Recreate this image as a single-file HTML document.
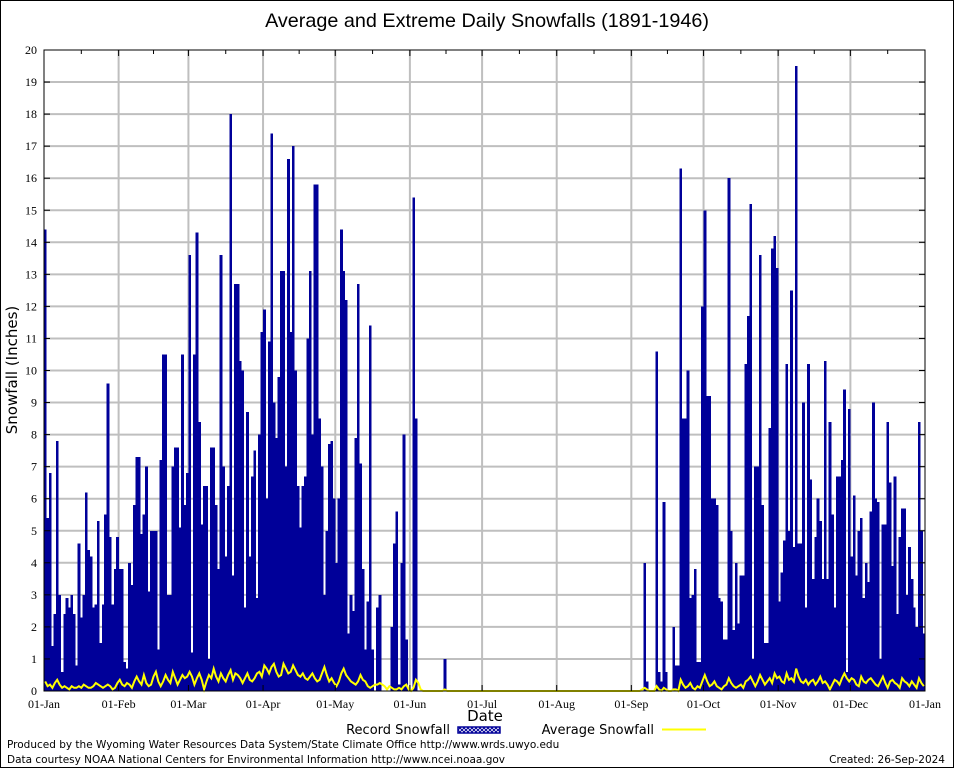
<!DOCTYPE html>
<html><head><meta charset="utf-8"><style>
html,body{margin:0;padding:0;background:#fff;}
svg{display:block;}
.tk{font-family:"Liberation Serif",serif;font-size:12px;fill:#000;}
.sn{font-family:"DejaVu Sans","Liberation Sans",sans-serif;fill:#000;}
</style></head><body>
<svg id="chart" width="954" height="768" viewBox="0 0 954 768" xmlns="http://www.w3.org/2000/svg">
<rect x="0.5" y="0.5" width="953" height="767" fill="#fff" stroke="#000"/>
<text x="487" y="27" text-anchor="middle" font-family="Liberation Sans, sans-serif" font-size="19.8">Average and Extreme Daily Snowfalls (1891-1946)</text>
<g id="grid"></g>
<g id="bars"></g>
<g id="avg"></g>
<g id="axes"></g>
<text x="17" y="370" class="sn" font-size="15" text-anchor="middle" transform="rotate(-90 17 370)">Snowfall (Inches)</text>
<text x="485" y="721" class="sn" font-size="15" text-anchor="middle">Date</text>
<g>
<defs><pattern id="hatch" width="4" height="4" patternUnits="userSpaceOnUse"><rect width="4" height="4" fill="#fff"/><path d="M0 0L4 4M4 0L0 4" stroke="#000099" stroke-width="1"/></pattern></defs>
<text x="450" y="734" class="sn" font-size="13" text-anchor="end">Record Snowfall</text>
<rect x="458" y="727" width="42" height="6" fill="url(#hatch)" stroke="#000099" stroke-width="1.5"/>
<text x="654" y="734" class="sn" font-size="13" text-anchor="end">Average Snowfall</text>
<line x1="662" y1="729.5" x2="706" y2="729.5" stroke="#ffff00" stroke-width="2"/>
</g>
<text x="7" y="748" class="sn" font-size="10.5">Produced by the Wyoming Water Resources Data System/State Climate Office http://www.wrds.uwyo.edu</text>
<text x="7" y="763" class="sn" font-size="10.5">Data courtesy NOAA National Centers for Environmental Information http://www.ncei.noaa.gov</text>
<text x="945" y="763" class="sn" font-size="10.5" text-anchor="end">Created:  26-Sep-2024</text>
</svg>
<script>
const monthLabels=["01-Jan","01-Feb","01-Mar","01-Apr","01-May","01-Jun","01-Jul","01-Aug","01-Sep","01-Oct","01-Nov","01-Dec","01-Jan"];
const monthStartDays=[0,31,60,91,121,152,182,213,244,274,305,335,366];
const yTicks=[0,1,2,3,4,5,6,7,8,9,10,11,12,13,14,15,16,17,18,19,20];
const recJan=[14.4,5.4,6.8,1.4,2.4,7.8,3.0,0.6,2.4,2.9,2.6,3.0,2.4,0.8,4.6,2.3,3.0,6.2,4.4,4.2,2.6,2.7,5.3,1.5,2.7,5.5,9.6,4.8,2.7,3.8,4.8];
const recFeb=[3.8,3.8,0.9,0.7,4.0,3.3,5.8,7.3,7.3,4.9,5.5,7.0,3.1,5.0,5.0,5.0,1.3,7.2,10.5,10.5,3.0,3.0,7.0,7.6,7.6,5.1,10.5,5.8,6.8];
const recMar=[13.6,1.2,10.5,14.3,8.4,5.2,6.4,6.4,1.0,7.6,7.6,5.8,3.8,13.6,7.0,4.2,6.4,18.0,3.6,12.7,12.7,10.3,10.0,2.6,8.7,4.2,6.7,7.5,2.9,8.0,11.2];
const recApr=[11.9,6.0,10.9,17.4,9.0,7.9,9.8,13.1,13.1,7.0,16.6,11.2,17.0,10.0,6.4,5.1,6.4,6.7,11.0,13.1,8.0,15.8,15.8,8.5,7.0,3.0,5.0,7.7,7.8,6.0];
const recMay=[4.0,6.0,14.4,13.1,12.2,1.8,3.0,2.5,7.9,12.7,7.1,3.8,1.3,2.8,11.4,1.3,0,2.6,3.0,0,0,0,0,2.0,4.6,5.6,0.2,4.0,8.0,1.6,0];
const recJun=[0,15.4,8.5,0,0,0,0,0,0,0,0,0,0,0,1.0,0,0,0,0,0,0,0,0,0,0,0,0,0,0,0];
const recJul=[0,0,0,0,0,0,0,0,0,0,0,0,0,0,0,0,0,0,0,0,0,0,0,0,0,0,0,0,0,0,0];
const recAug=[0,0,0,0,0,0,0,0,0,0,0,0,0,0,0,0,0,0,0,0,0,0,0,0,0,0,0,0,0,0,0];
const recSep=[0,0,0,0,0,4.0,0.3,0,0,0,10.6,0.6,0.3,5.9,0.6,0,0,2.0,0.8,0.8,16.3,8.5,8.5,10.0,2.9,3.0,3.8,0.9,0.9,12.0];
const recOct=[15.0,9.2,9.2,6.0,6.0,5.8,2.9,2.8,1.6,1.6,16.0,5.0,1.9,4.0,2.1,3.6,3.6,10.2,11.7,15.2,1.0,7.0,7.0,13.6,5.8,1.5,1.5,8.2,13.8,14.2,13.2];
const recNov=[2.8,3.7,4.7,10.2,5.0,12.5,4.5,19.5,4.6,4.6,9.0,2.6,10.2,6.6,3.5,4.8,6.0,5.3,3.5,10.3,3.5,8.4,5.5,2.6,6.7,6.7,7.2,9.4,0.6,8.8];
const recDec=[4.2,6.1,3.6,5.0,5.4,2.9,4.0,3.4,5.6,9.0,6.0,5.9,1.0,5.2,5.2,8.4,6.5,3.9,6.7,2.4,4.8,5.7,5.7,3.0,4.5,3.5,2.6,2.0,8.4,5.0,1.8];
const avgJan=[.30,.15,.20,.10,.25,.35,.20,.10,.15,.10,.05,.15,.10,.10,.15,.10,.20,.15,.10,.10,.15,.25,.20,.15,.10,.15,.20,.15,.05,.10,.25];
const avgFeb=[.35,.20,.15,.25,.20,.10,.30,.45,.30,.20,.50,.25,.15,.20,.45,.60,.30,.15,.30,.50,.35,.25,.60,.40,.20,.35,.50,.40,.45];
const avgMar=[.60,.45,.20,.40,.55,.35,.05,.30,.50,.40,.70,.45,.30,.55,.40,.30,.50,.65,.35,.55,.50,.40,.25,.40,.55,.35,.30,.40,.55,.60,.45];
const avgApr=[.80,.70,.55,.75,.85,.60,.45,.50,.85,.70,.55,.60,.80,.65,.50,.45,.55,.40,.35,.45,.55,.40,.30,.35,.55,.75,.50,.30,.40,.25];
const avgMay=[.15,.30,.55,.70,.50,.40,.30,.25,.20,.30,.50,.35,.30,.15,.10,.15,.20,.20,.25,.20,.15,.05,.15,.10,.05,.05,.10,.05,.15,.20,.05];
const avgJun=[0,.10,.35,.25,.05,0,0,0,0,0,0,0,0,0,.05,0,0,0,0,0,0,0,0,0,0,0,0,0,0,0];
const avgJul=[0,0,0,0,0,0,0,0,0,0,0,0,0,0,0,0,0,0,0,0,0,0,0,0,0,0,0,0,0,0,0];
const avgAug=[0,0,0,0,0,0,0,0,0,0,0,0,0,0,0,0,0,0,0,0,0,0,0,0,0,0,0,0,0,0,0];
const avgSep=[0,0,0,0,.05,.10,.05,0,0,0,.15,.05,0,.10,.05,0,0,.05,.05,0,.35,.20,.10,.15,.25,.10,.05,.15,.10,.30];
const avgOct=[.50,.30,.15,.20,.30,.15,.10,.05,.15,.20,.40,.25,.15,.10,.15,.20,.10,.30,.35,.45,.30,.15,.30,.50,.35,.20,.30,.40,.25,.55,.40];
const avgNov=[.45,.30,.25,.55,.35,.40,.30,.70,.45,.30,.25,.35,.20,.30,.35,.20,.30,.45,.25,.30,.20,.05,.20,.35,.30,.20,.40,.55,.40,.30];
const avgDec=[.40,.35,.20,.15,.45,.30,.25,.35,.40,.30,.20,.15,.30,.45,.25,.10,.30,.35,.25,.20,.10,.40,.30,.25,.15,.30,.20,.10,.40,.25,.15];

const record=[].concat(recJan,recFeb,recMar,recApr,recMay,recJun,recJul,recAug,recSep,recOct,recNov,recDec);
const average=[].concat(avgJan,avgFeb,avgMar,avgApr,avgMay,avgJun,avgJul,avgAug,avgSep,avgOct,avgNov,avgDec);
const NS="http://www.w3.org/2000/svg";
const L=44,R=925,T=50,B=691,YMAX=20,NDAYS=366;
function xs(d){return L+(R-L)*d/NDAYS;}
function ys(v){return B-(B-T)*v/YMAX;}
function mk(tag,attrs,parent){const e=document.createElementNS(NS,tag);for(const k in attrs)e.setAttribute(k,attrs[k]);parent.appendChild(e);return e;}
const grid=document.getElementById('grid'),bars=document.getElementById('bars'),avg=document.getElementById('avg'),axes=document.getElementById('axes');
yTicks.forEach(v=>{
  if(v>0&&v<YMAX){const g=mk('line',{x1:L,x2:R,y1:ys(v),y2:ys(v),stroke:'#bfbfbf','stroke-width':2},grid);
  
  }
  const t=mk('text',{x:L-7,y:ys(v)+4,'text-anchor':'end',class:'tk'},axes);t.textContent=v;
  
  
  mk('line',{x1:L,x2:L+6,y1:ys(v),y2:ys(v),stroke:'#000'},axes);
  mk('line',{x1:R-6,x2:R,y1:ys(v),y2:ys(v),stroke:'#000'},axes);
});
monthStartDays.forEach((d,i)=>{
  const x=xs(d);
  if(i>0&&i<monthStartDays.length-1){const g=mk('line',{x1:x,x2:x,y1:T,y2:B,stroke:'#bfbfbf','stroke-width':2},grid);
  
  }
  mk('line',{x1:x,x2:x,y1:T,y2:T+6,stroke:'#000'},axes);
  mk('line',{x1:x,x2:x,y1:B-6,y2:B,stroke:'#000'},axes);
  if(i<monthStartDays.length-1){const xm=xs((d+monthStartDays[i+1])/2);
    mk('line',{x1:xm,x2:xm,y1:T,y2:T+4,stroke:'#000'},axes);}
  const t=mk('text',{x:x,y:708,'text-anchor':'middle',class:'tk'},axes);t.textContent=monthLabels[i];
  
  
});
record.forEach((v,d)=>{
  if(v<=0)return;
  const r=mk('rect',{x:xs(d),y:ys(v),width:xs(d+1)-xs(d)+0.3,height:B-ys(v),fill:'#000099','shape-rendering':'crispEdges'},bars);
  
  
});
const pts=average.map((v,d)=>xs(d+0.5).toFixed(1)+','+ys(v).toFixed(1)).join(' ');
const pl=mk('polyline',{points:pts,fill:'none',stroke:'#ffff00','stroke-width':2},avg);


const fr=mk('rect',{x:L,y:T,width:R-L,height:B-T,fill:'none',stroke:'#000','stroke-width':1},axes);


</script>
</body></html>
